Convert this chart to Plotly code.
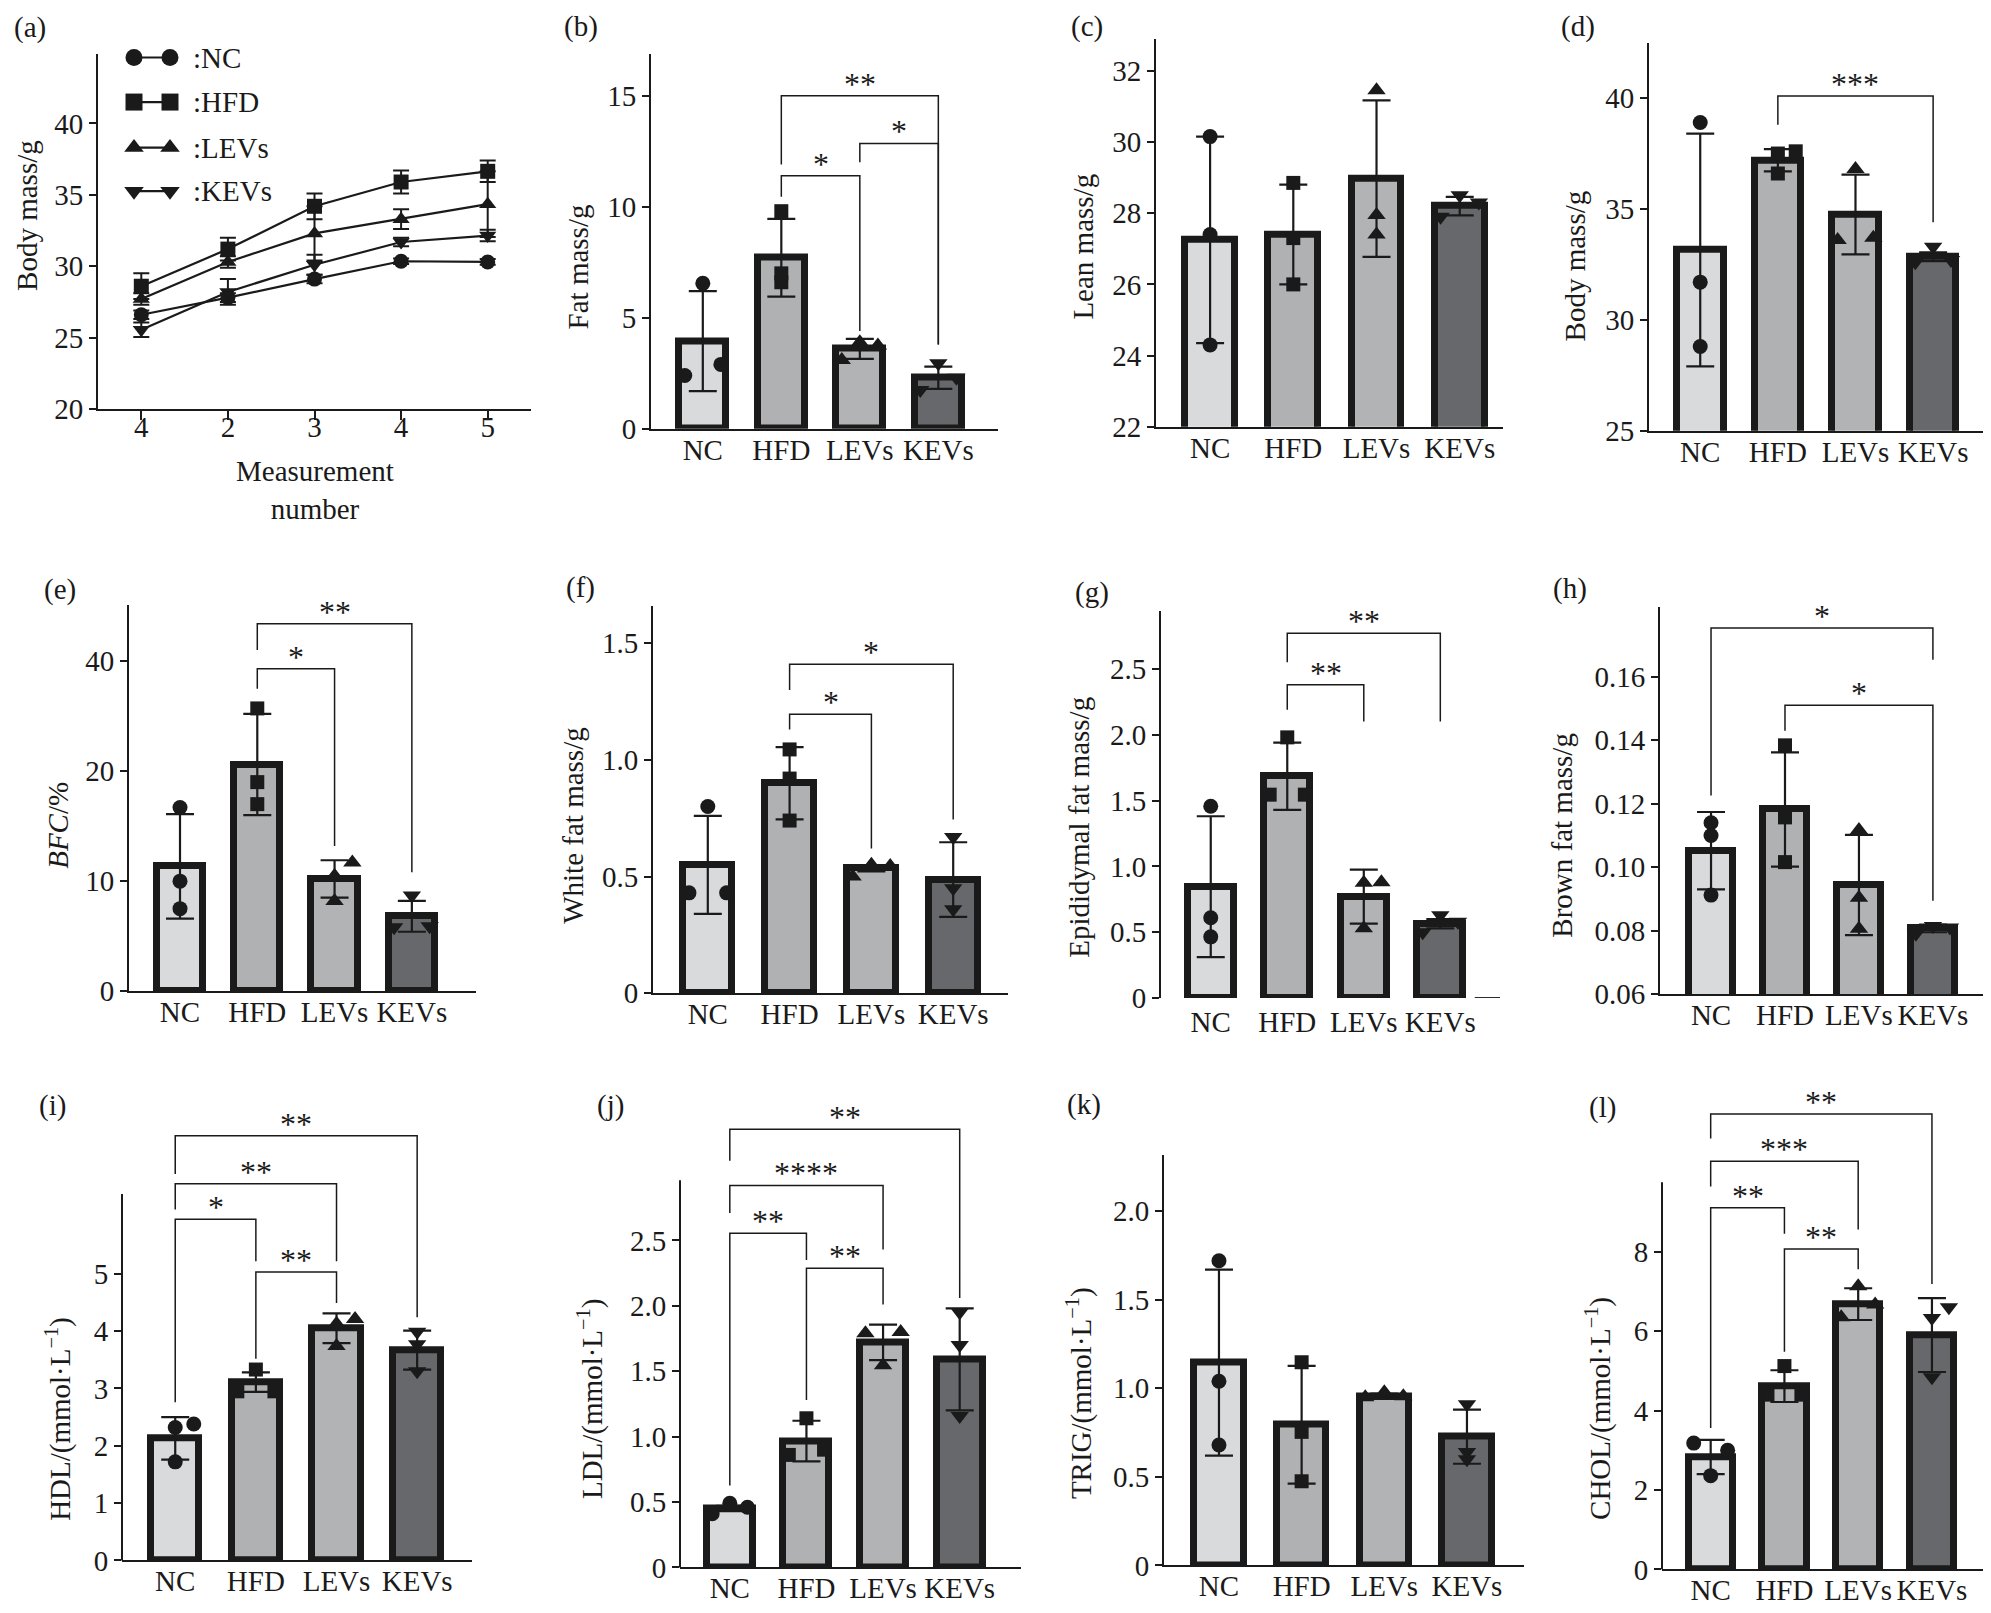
import plotly.graph_objects as go

W, H = 1991, 1613
INK = "#1a1a1a"
FONT = "Liberation Serif"

groups = ["NC", "HFD", "LEVs", "KEVs"]
bar_fill = ["#d9dadc", "#b0b1b3", "#b2b3b5", "#67686b"]
symbols = ["circle", "square", "triangle-up", "triangle-down"]
pt_size = [15, 14, 16, 16]

# (a) body mass per measurement
week_ticks = ["4", "2", "3", "4", "5"]
week_nc = [26.6, 27.8, 29.1, 30.35, 30.3]
week_hfd = [28.6, 31.2, 34.2, 35.9, 36.65]
week_lev = [27.7, 30.3, 32.3, 33.3, 34.35]
week_kev = [25.55, 28.2, 30.1, 31.7, 32.15]
week_nc_sd = [0.3, 0.3, 0.3, 0.2, 0.2]
week_hfd_sd = [0.9, 0.8, 0.9, 0.8, 0.75]
week_lev_sd = [0.4, 0.4, 1.9, 0.7, 2.3]
week_kev_sd = [0.5, 0.9, 0.7, 0.3, 0.4]

# (b) fat mass
fat_mean = [3.95, 7.7, 3.6, 2.3]
fat_sd = [2.25, 1.75, 0.45, 0.5]
fat_pts = [[6.55, 2.4, 2.9], [9.8, 7.0, 6.6], [3.9, 3.1, 3.75], [2.95, 2.3, 1.75]]
fat_jit = [[0, -1, 1], [0, 0, 0], [0, -1, 1], [0, 1, -1]]
fat_sig = [(1, 3, 15.0, 11.9, 3.8, "**"), (1, 2, 11.4, 10.45, 4.4, "*"), (2, 3, 12.85, 12.0, 3.8, "*")]
fat_ticks = [0, 5, 10, 15]

# (c) lean mass
lean_mean = [27.25, 27.4, 28.97, 28.2]
lean_sd = [2.9, 1.4, 2.2, 0.26]
lean_pts = [[30.15, 27.4, 24.3], [28.85, 27.3, 26.0], [31.45, 27.95, 27.4], [28.5, 28.3, 27.9]]
lean_jit = [[0, 0, 0], [0, 0, 0], [0, 0, 0], [0, 1, -1]]
lean_sig = []
lean_ticks = [22, 24, 26, 28, 30, 32]

# (d) body mass
body_mean = [33.15, 37.2, 34.75, 32.85]
body_sd = [5.25, 0.5, 1.8, 0.2]
body_pts = [[38.9, 31.7, 28.8], [37.5, 37.6, 36.6], [36.8, 33.6, 33.7], [33.3, 32.7, 32.6]]
body_jit = [[0, 0, 0], [0, 1, 0], [0, -1, 1], [0, 1, -1]]
body_sig = [(1, 3, 40.1, 38.8, 34.4, "***")]
body_ticks = [25, 30, 35, 40]

# (e) body fat content
bfc_mean = [11.35, 20.6, 10.2, 6.8]
bfc_sd = [4.75, 4.6, 1.7, 1.4]
bfc_pts = [[16.7, 10.0, 7.5], [25.7, 19.0, 17.0], [10.5, 11.7, 8.2], [8.7, 5.9, 5.8]]
bfc_jit = [[0, 0, 0], [0, 0, 0], [0, 1, 0], [0, 1, -1]]
bfc_sig = [(1, 3, 33.4, 31.0, 10.8, "**"), (1, 2, 29.3, 27.5, 13.2, "*")]
bfc_ticks = [0, 10, 20, 30]
bfc_ticktext = ["0", "10", "20", "40"]

# (f) white fat mass
wat_mean = [0.55, 0.90, 0.535, 0.487]
wat_sd = [0.21, 0.155, 0.013, 0.16]
wat_pts = [[0.80, 0.43, 0.43], [1.045, 0.92, 0.74], [0.55, 0.545, 0.50], [0.67, 0.45, 0.36]]
wat_jit = [[0, -1, 1], [0, 0, 0], [0, 1, -1], [0, 0, 0]]
wat_sig = [(1, 3, 1.41, 1.30, 0.745, "*"), (1, 2, 1.196, 1.13, 0.62, "*")]
wat_ticks = [0, 0.5, 1.0, 1.5]
wat_ticktext = ["0", "0.5", "1.0", "1.5"]

# (g) epididymal fat mass
epi_mean = [0.846, 1.685, 0.77, 0.565]
epi_sd = [0.535, 0.255, 0.205, 0.035]
epi_pts = [[1.457, 0.61, 0.465], [1.98, 1.545, 1.545], [0.875, 0.88, 0.53], [0.63, 0.58, 0.5]]
epi_jit = [[0, 0, 0], [0, -1, 1], [0, 1, 0], [0, 1, -1]]
epi_sig = [(1, 3, 2.77, 2.55, 2.10, "**"), (1, 2, 2.38, 2.19, 2.10, "**")]
epi_ticks = [0, 0.5, 1.0, 1.5, 2.0, 2.5]
epi_ticktext = ["0", "0.5", "1.0", "1.5", "2.0", "2.5"]

# (h) brown fat mass
bat_mean = [0.1052, 0.1182, 0.0944, 0.0807]
bat_sd = [0.0122, 0.018, 0.0158, 0.0012]
bat_pts = [[0.114, 0.110, 0.0912], [0.1384, 0.1157, 0.1016], [0.1117, 0.0904, 0.0806], [0.0815, 0.081, 0.079]]
bat_jit = [[0, 0, 0], [0, 0, 0], [0, 0, 0], [0, 1, -1]]
bat_sig = [(0, 3, 0.1754, 0.1226, 0.1654, "*"), (1, 3, 0.151, 0.143, 0.0894, "*")]
bat_ticks = [0.06, 0.08, 0.10, 0.12, 0.14, 0.16]
bat_ticktext = ["0.06", "0.08", "0.10", "0.12", "0.14", "0.16"]

# (i) HDL
hdl_mean = [2.13, 3.11, 4.05, 3.67]
hdl_sd = [0.37, 0.17, 0.26, 0.34]
hdl_pts = [[2.32, 2.38, 1.72], [3.33, 2.95, 2.95], [4.13, 4.21, 3.74], [3.99, 3.77, 3.3]]
hdl_jit = [[0, 1, 0], [0, -1, 1], [0, 1, 0], [0, 0, 0]]
hdl_sig = [(0, 3, 7.41, 6.74, 4.24, "**"), (0, 2, 6.57, 6.12, 5.22, "**"),
           (0, 1, 5.95, 2.76, 5.22, "*"), (1, 2, 5.03, 3.52, 4.49, "**")]
hdl_ticks = [0, 1, 2, 3, 4, 5]

# (j) LDL
ldl_mean = [0.45, 0.966, 1.72, 1.59]
ldl_sd = [0.02, 0.155, 0.136, 0.39]
ldl_pts = [[0.49, 0.46, 0.41], [1.14, 0.86, 0.90], [1.79, 1.80, 1.545], [1.95, 1.70, 1.157]]
ldl_jit = [[0, 1, -1], [0, -1, 1], [-1, 1, 0], [0, 0, 0]]
ldl_sig = [(0, 3, 3.35, 3.11, 2.06, "**"), (0, 2, 2.92, 2.71, 2.43, "****"),
           (0, 1, 2.555, 0.626, 2.35, "**"), (1, 2, 2.287, 1.28, 2.01, "**")]
ldl_ticks = [0, 0.5, 1.0, 1.5, 2.0, 2.5]
ldl_ticktext = ["0", "0.5", "1.0", "1.5", "2.0", "2.5"]

# (k) TRIG
trig_mean = [1.145, 0.794, 0.955, 0.727]
trig_sd = [0.525, 0.332, 0.015, 0.153]
trig_pts = [[1.72, 1.04, 0.68], [1.147, 0.754, 0.475], [0.978, 0.95, 0.955], [0.91, 0.64, 0.60]]
trig_jit = [[0, 0, 0], [0, 0, 0], [0, -1, 1], [0, 0, 0]]
trig_sig = []
trig_ticks = [0, 0.5, 1.0, 1.5, 2.0]
trig_ticktext = ["0", "0.5", "1.0", "1.5", "2.0"]

# (l) CHOL
chol_mean = [2.83, 4.615, 6.68, 5.9]
chol_sd = [0.43, 0.4, 0.4, 0.93]
chol_pts = [[3.18, 3.0, 2.36], [5.12, 4.4, 4.4], [7.13, 6.35, 6.67], [6.6, 6.33, 4.84]]
chol_jit = [[-1, 1, 0], [0, -1, 1], [0, -1, 1], [1, 0, 0]]
chol_sig = [(0, 3, 11.47, 10.85, 7.19, "**"), (0, 2, 10.28, 9.64, 8.56, "***"),
            (0, 1, 9.11, 3.56, 8.45, "**"), (1, 2, 8.07, 5.48, 7.56, "**")]
chol_ticks = [0, 2, 4, 6, 8]

# ---- layout geometry (pixels in the 1991x1613 page) ----
box = {  # x0, x1, ytop, ybottom of each drawn axis
    "a": (90, 523, 46, 405), "b": (643, 990, 46, 425), "c": (1148, 1495, 31, 423), "d": (1641, 1988, 35, 427),
    "e": (121, 468, 603, 993), "f": (645, 1000, 604, 995), "g": (1153, 1492, 609, 1000), "h": (1652, 1990, 605, 996),
    "i": (114, 464, 1198, 1568), "j": (672, 1013, 1184, 1575), "k": (1156, 1516, 1158, 1573), "l": (1654, 1980, 1186, 1577),
}
xspan = {"b": (-0.66, 3.76), "c": (-0.65, 3.52), "d": (-0.66, 3.81), "e": (-0.66, 3.83), "f": (-0.67, 3.67),
         "g": (-0.65, 3.78), "h": (-0.69, 3.88), "i": (-0.66, 3.68), "j": (-0.65, 3.8), "k": (-0.665, 3.69),
         "l": (-0.66, 3.76)}
xlabel_gap = {"g": 4}  # (g) has no x-axis line, so its labels need less pull-in
title_pos = {"a": (19, 210), "b": (570, 262), "c": (1075, 241), "d": (1567, 261), "e": (50, 826), "f": (565, 826),
             "g": (1071, 828), "h": (1554, 836), "i": (51, 1425), "j": (582, 1405), "k": (1071, 1399), "l": (1591, 1415)}
label_pos = {"a": (22, 20), "b": (573, 19), "c": (1079, 19), "d": (1570, 19), "e": (52, 587), "f": (572, 585),
             "g": (1084, 590), "h": (1562, 586), "i": (44, 1109), "j": (602, 1109), "k": (1076, 1107), "l": (1594, 1111)}
legend_rows = [50, 95, 141, 185]
legend_x = (126, 162, 183)

unit = "/(mmol·L<sup>−1</sup>)"
panels = [
    ("b", "Fat mass/g", fat_mean, fat_sd, fat_pts, fat_jit, fat_sig, [0, 16.9], fat_ticks, [str(v) for v in fat_ticks]),
    ("c", "Lean mass/g", lean_mean, lean_sd, lean_pts, lean_jit, lean_sig, [22, 32.9], lean_ticks, [str(v) for v in lean_ticks]),
    ("d", "Body mass/g", body_mean, body_sd, body_pts, body_jit, body_sig, [25, 42.5], body_ticks, [str(v) for v in body_ticks]),
    ("e", "<i>BFC</i>/%", bfc_mean, bfc_sd, bfc_pts, bfc_jit, bfc_sig, [0, 35.1], bfc_ticks, bfc_ticktext),
    ("f", "White fat mass/g", wat_mean, wat_sd, wat_pts, wat_jit, wat_sig, [0, 1.66], wat_ticks, wat_ticktext),
    ("g", "Epididymal fat mass/g", epi_mean, epi_sd, epi_pts, epi_jit, epi_sig, [0, 2.94], epi_ticks, epi_ticktext),
    ("h", "Brown fat mass/g", bat_mean, bat_sd, bat_pts, bat_jit, bat_sig, [0.06, 0.182], bat_ticks, bat_ticktext),
    ("i", "HDL" + unit, hdl_mean, hdl_sd, hdl_pts, hdl_jit, hdl_sig, [0, 6.39], hdl_ticks, [str(v) for v in hdl_ticks]),
    ("j", "LDL" + unit, ldl_mean, ldl_sd, ldl_pts, ldl_jit, ldl_sig, [0, 2.96], ldl_ticks, ldl_ticktext),
    ("k", "TRIG" + unit, trig_mean, trig_sd, trig_pts, trig_jit, trig_sig, [0, 2.32], trig_ticks, trig_ticktext),
    ("l", "CHOL" + unit, chol_mean, chol_sd, chol_pts, chol_jit, chol_sig, [0, 9.75], chol_ticks, [str(v) for v in chol_ticks]),
]
letters = "abcdefghijkl"


def refs(n):
    return ("x" if n == 1 else f"x{n}"), ("y" if n == 1 else f"y{n}")


def paper(px, py):
    return px / W, 1 - py / H


fig = go.Figure()
annotations = []
shapes = []
layout_axes = {}

yaxis_common = dict(ticks="outside", ticklen=7, tickwidth=2, tickcolor=INK, linewidth=2,
                    linecolor=INK, showgrid=False, zeroline=False, tickfont=dict(size=29), fixedrange=True)

# ---- panel (a): lines ----
x0, x1, yt, yb = box["a"]
layout_axes["xaxis"] = dict(domain=[x0 / W, x1 / W], range=[0.5, 5.5], tickvals=[1, 2, 3, 4, 5],
                            ticktext=week_ticks, ticks="outside", ticklen=9, tickwidth=2, tickcolor=INK,
                            showline=True, linewidth=2, linecolor=INK, showgrid=False, zeroline=False,
                            tickfont=dict(size=29), anchor="y", fixedrange=True, ticklabelstandoff=-18)
layout_axes["yaxis"] = dict(domain=[1 - yb / H, 1 - yt / H], range=[20, 44.9], tickvals=[20, 25, 30, 35, 40],
                            anchor="x", showline=True, **yaxis_common)
week_series = [(week_nc, week_nc_sd), (week_hfd, week_hfd_sd), (week_lev, week_lev_sd), (week_kev, week_kev_sd)]
for g, (vals, sd) in enumerate(week_series):
    fig.add_trace(go.Scatter(x=[1, 2, 3, 4, 5], y=vals, mode="lines+markers", xaxis="x", yaxis="y",
                             line=dict(color=INK, width=2.2),
                             marker=dict(symbol=symbols[g], size=15, color=INK),
                             error_y=dict(type="data", array=sd, color=INK, thickness=2, width=8),
                             cliponaxis=False, showlegend=False))
mx, my = paper(307, 487)
annotations.append(dict(text="Measurement<br>number", x=mx, y=my, xref="paper", yref="paper",
                        xanchor="center", yanchor="middle", showarrow=False, font=dict(size=29)))

# legend of (a), drawn on a full-page overlay axis
layout_axes["xaxis13"] = dict(domain=[0, 1], range=[0, W], visible=False, anchor="y13", fixedrange=True)
layout_axes["yaxis13"] = dict(domain=[0, 1], range=[H, 0], visible=False, anchor="x13", fixedrange=True)
for g, name in enumerate(groups):
    ry = legend_rows[g]
    fig.add_trace(go.Scatter(x=[legend_x[0], legend_x[1]], y=[ry, ry], mode="lines+markers", xaxis="x13",
                             yaxis="y13", line=dict(color=INK, width=2.2),
                             marker=dict(symbol=symbols[g], size=17, color=INK), cliponaxis=False,
                             showlegend=False, hoverinfo="skip"))
    tx, ty = paper(legend_x[2], ry)
    annotations.append(dict(text=":" + name, x=tx, y=ty, xref="paper", yref="paper", xanchor="left",
                            yanchor="middle", showarrow=False, font=dict(size=29)))

# ---- bar panels ----
for letter, ytitle, mean, sd, pts, jit, sig, yrng, tv, tt in panels:
    n = letters.index(letter) + 1
    xr, yr = refs(n)
    x0, x1, yt, yb = box[letter]
    # let the plotting area grow upward when brackets sit above the drawn axis
    tops = [s[2] for s in sig]
    ymax = yrng[1]
    yt_plot = yt
    show_y = True
    if tops and max(tops) > yrng[1]:
        ymax = max(tops) + 0.02 * (yrng[1] - yrng[0])
        yt_plot = yt - (ymax - yrng[1]) * (yb - yt) / (yrng[1] - yrng[0])
        shapes.append(dict(type="line", xref="paper", yref="paper", x0=x0 / W, x1=x0 / W,
                           y0=1 - yb / H, y1=1 - yt / H, line=dict(color=INK, width=2)))
        show_y = False
    layout_axes[f"xaxis{n}"] = dict(domain=[x0 / W, x1 / W], range=list(xspan[letter]), tickvals=[0, 1, 2, 3],
                                    ticktext=groups, ticks="", showline=(letter != "g"), linewidth=2,
                                    linecolor=INK, showgrid=False, zeroline=False, tickfont=dict(size=29),
                                    anchor=yr, fixedrange=True, ticklabelstandoff=xlabel_gap.get(letter, -6))
    layout_axes[f"yaxis{n}"] = dict(domain=[1 - yb / H, 1 - yt_plot / H], range=[yrng[0], ymax], tickvals=tv,
                                    ticktext=tt, anchor=xr, showline=show_y, **yaxis_common)

    fig.add_trace(go.Bar(x=[0, 1, 2, 3], y=mean, width=0.6, xaxis=xr, yaxis=yr,
                         marker=dict(color=bar_fill, line=dict(color=INK, width=7)),
                         error_y=dict(type="data", array=sd, color=INK, thickness=2.2, width=14),
                         showlegend=False))
    for g in range(4):
        fig.add_trace(go.Scatter(x=[g + 0.23 * j for j in jit[g]], y=pts[g], mode="markers", xaxis=xr, yaxis=yr,
                                 marker=dict(symbol=symbols[g], size=pt_size[g], color=INK),
                                 cliponaxis=False, showlegend=False))
    for i, j, top, lb, rb, lab in sig:
        fig.add_trace(go.Scatter(x=[i, i, j, j], y=[lb, top, top, rb], mode="lines", xaxis=xr, yaxis=yr,
                                 line=dict(color=INK, width=1.5), cliponaxis=False, showlegend=False,
                                 hoverinfo="skip"))
        annotations.append(dict(text=lab, x=(i + j) / 2, y=top, xref=xr, yref=yr, yshift=12, showarrow=False,
                                xanchor="center", yanchor="middle", font=dict(size=32)))
    if letter == "g":
        shapes.append(dict(type="line", xref=xr, yref=yr, x0=3.45, x1=xspan["g"][1], y0=yrng[0], y1=yrng[0],
                           line=dict(color=INK, width=2)))

# ---- axis titles and panel labels ----
ytitles = {"a": "Body mass/g"}
ytitles.update({p[0]: p[1] for p in panels})
for letter in letters:
    tx, ty = paper(*title_pos[letter])
    annotations.append(dict(text=ytitles[letter], x=tx, y=ty, xref="paper", yref="paper", textangle=-90,
                            showarrow=False, xanchor="center", yanchor="middle", font=dict(size=29)))
    lx, ly = paper(*label_pos[letter])
    annotations.append(dict(text=f"({letter})", x=lx, y=ly, xref="paper", yref="paper", showarrow=False,
                            xanchor="center", yanchor="middle", font=dict(size=29)))

fig.update_layout(width=W, height=H, margin=dict(l=0, r=0, t=0, b=0), paper_bgcolor="white",
                  plot_bgcolor="rgba(0,0,0,0)", font=dict(family=FONT, size=29, color=INK), showlegend=False,
                  bargap=0, annotations=annotations, shapes=shapes, **layout_axes)

fig.write_html("out.html")
